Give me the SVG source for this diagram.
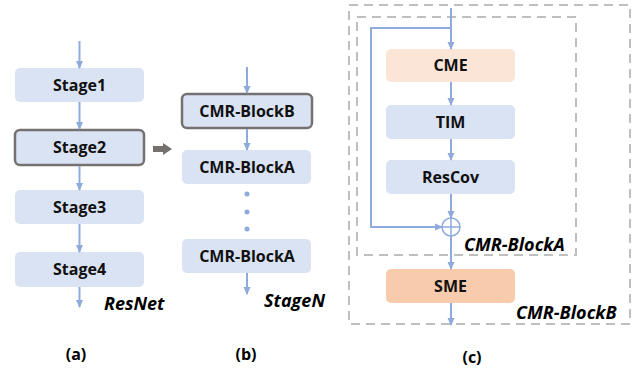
<svg xmlns="http://www.w3.org/2000/svg" width="641" height="373" viewBox="0 0 641 373">
<style>
.box{fill:#dae3f3}
.hl{stroke:#767171;stroke-width:2.5}
.cme{fill:#fbe5d6}
.sme{fill:#f8cbad}
.t{font-family:"Open Sans","Liberation Sans",sans-serif;font-weight:700;font-size:16px;fill:#111;text-anchor:middle}
.it{font-family:"Open Sans","Liberation Sans",sans-serif;font-weight:700;font-style:italic;font-size:18px;fill:#000}
.cap{font-family:"Open Sans","Liberation Sans",sans-serif;font-weight:700;font-size:16px;fill:#000;text-anchor:middle}
.c{fill:none;stroke:#8faadc;stroke-width:2}
.d{fill:none;stroke:#bfbfbf;stroke-width:2;stroke-dasharray:9 6}
</style>
<defs>
<marker id="ah" markerWidth="8" markerHeight="8" refX="7" refY="4" orient="auto" markerUnits="userSpaceOnUse">
<path d="M0,0.5 L8,4 L0,7.5 Z" fill="#8faadc"/>
</marker>
</defs>
<rect class="d" x="349" y="5" width="281" height="319"/>
<rect class="d" x="357" y="17" width="219" height="238"/>
<g id="stage1"><rect class="box" x="15" y="68" width="129" height="34" rx="5"/><text class="t" x="79.5" y="90.5">Stage1</text></g>
<g id="stage2"><rect class="box hl" x="15" y="130" width="129" height="35" rx="5"/><text class="t" x="79.5" y="153">Stage2</text></g>
<g id="stage3"><rect class="box" x="15" y="190" width="129" height="34" rx="5"/><text class="t" x="79.5" y="212.5">Stage3</text></g>
<g id="stage4"><rect class="box" x="15" y="252" width="129" height="35" rx="5"/><text class="t" x="79.5" y="275">Stage4</text></g>
<g id="blockB"><rect class="box hl" x="182" y="94" width="130" height="34" rx="5"/><text class="t" x="247" y="116.5">CMR-BlockB</text></g>
<g id="blockA1"><rect class="box" x="182" y="150" width="129" height="34" rx="5"/><text class="t" x="247" y="172.5">CMR-BlockA</text></g>
<g id="blockA2"><rect class="box" x="182" y="239" width="129" height="34" rx="5"/><text class="t" x="247" y="261.5">CMR-BlockA</text></g>
<g id="cme"><rect class="cme" x="386" y="49" width="129" height="33" rx="5"/><text class="t" x="450.5" y="71">CME</text></g>
<g id="tim"><rect class="box" x="386" y="105" width="129" height="34" rx="5"/><text class="t" x="450.5" y="127.5">TIM</text></g>
<g id="rescov"><rect class="box" x="386" y="160" width="129" height="34" rx="5"/><text class="t" x="450.5" y="182.5">ResCov</text></g>
<g id="sme"><rect class="sme" x="386" y="269" width="129" height="34" rx="5"/><text class="t" x="450.5" y="291.5">SME</text></g>
<g id="sum"><circle cx="451" cy="227" r="9" fill="#fff" stroke="#8faadc" stroke-width="1.5"/><path d="M442,227 H460 M451,218 V236" stroke="#8faadc" stroke-width="1.5"/></g>
<g id="connectors">
<line class="c" x1="79.5" y1="41" x2="79.5" y2="68" marker-end="url(#ah)"/>
<line class="c" x1="79.5" y1="102" x2="79.5" y2="129" marker-end="url(#ah)"/>
<line class="c" x1="79.5" y1="166" x2="79.5" y2="190" marker-end="url(#ah)"/>
<line class="c" x1="79.5" y1="224" x2="79.5" y2="252" marker-end="url(#ah)"/>
<line class="c" x1="79.5" y1="287" x2="79.5" y2="307" marker-end="url(#ah)"/>
<line class="c" x1="247" y1="67" x2="247" y2="93" marker-end="url(#ah)"/>
<line class="c" x1="247" y1="129" x2="247" y2="150" marker-end="url(#ah)"/>
<line class="c" x1="247" y1="273" x2="247" y2="294" marker-end="url(#ah)"/>
<circle cx="247" cy="194" r="2.5" fill="#8faadc"/>
<circle cx="247" cy="212" r="2.5" fill="#8faadc"/>
<circle cx="247" cy="229" r="2.5" fill="#8faadc"/>
<path d="M153,146 H163 V143 L172,149 L163,155 V152 H153 Z" fill="#767171"/>
<line class="c" x1="451" y1="8" x2="451" y2="49" marker-end="url(#ah)"/>
<polyline class="c" points="451,28 371,28 371,227 442,227" marker-end="url(#ah)"/>
<line class="c" x1="451" y1="82" x2="451" y2="105" marker-end="url(#ah)"/>
<line class="c" x1="451" y1="139" x2="451" y2="160" marker-end="url(#ah)"/>
<line class="c" x1="451" y1="194" x2="451" y2="218" marker-end="url(#ah)"/>
<line class="c" x1="451" y1="236" x2="451" y2="269" marker-end="url(#ah)"/>
<line class="c" x1="451" y1="303" x2="451" y2="325" marker-end="url(#ah)"/>
</g>
<text class="it" x="104" y="310">ResNet</text>
<text class="it" x="264" y="307">StageN</text>
<text class="it" x="464" y="251">CMR-BlockA</text>
<text class="it" x="516" y="319">CMR-BlockB</text>
<text class="cap" x="76" y="360">(a)</text>
<text class="cap" x="246" y="360">(b)</text>
<text class="cap" x="472" y="363">(c)</text>
</svg>
